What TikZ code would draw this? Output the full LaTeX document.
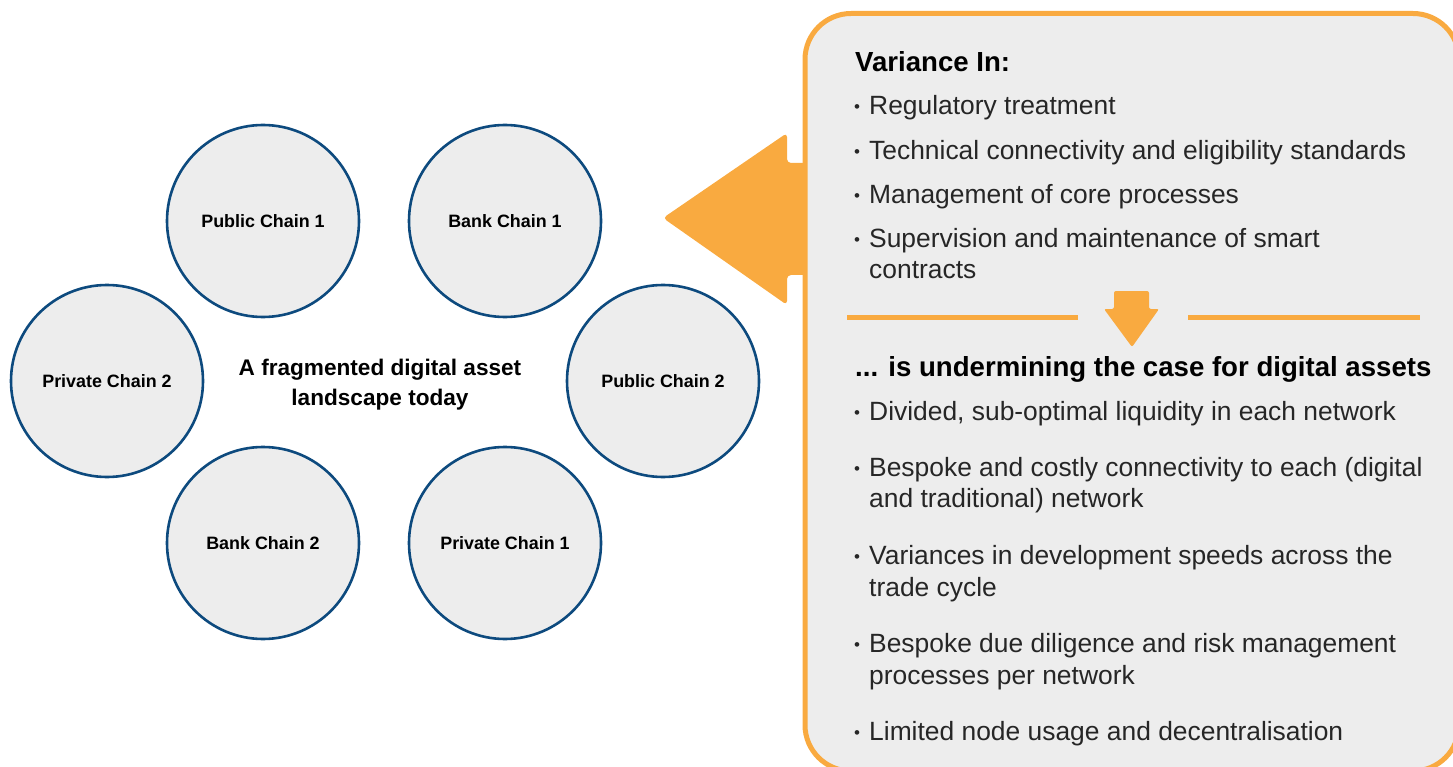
\documentclass[tikz,border=0pt]{standalone}
\usepackage{fontspec}
\setmainfont{Liberation Sans}
\definecolor{chainblue}{HTML}{0D4A7E}
\definecolor{panelgray}{HTML}{EDEDED}
\definecolor{accent}{HTML}{F9AA40}
\definecolor{textgray}{HTML}{262626}
\begin{document}
\begin{tikzpicture}[x=1pt,y=-1pt,
  chain/.style={circle, draw=chainblue, line width=2.6pt, fill=panelgray,
    minimum size=192pt, inner sep=0pt,
    font=\fontsize{17.9}{20}\selectfont\bfseries, text=black},
  body/.style={anchor=base west, inner sep=0pt,
    font=\fontsize{26.4}{30}\selectfont, text=textgray},
  dot/.style={anchor=base west, inner sep=0pt,
    font=\fontsize{17}{20}\selectfont, text=textgray},
  head/.style={anchor=base west, inner sep=0pt,
    font=\fontsize{27.6}{30}\selectfont\bfseries, text=black},
]
\useasboundingbox (0,0) rectangle (1453,767);

% chain circles
\node[chain] (pub1)  at (263,221) {Public Chain 1};
\node[chain] (bank1) at (505,221) {Bank Chain 1};
\node[chain] (priv2) at (107,381) {Private Chain 2};
\node[chain] (pub2)  at (663,381) {Public Chain 2};
\node[chain] (bank2) at (263,543) {Bank Chain 2};
\node[chain] (priv1) at (505,543) {Private Chain 1};
\node[align=center, font=\fontsize{22.6}{30}\selectfont\bfseries, text=black]
  (centre) at (380,385) {A fragmented digital asset\\landscape today};

% big arrow pointing from the panel to the circles
\fill[accent, rounded corners=4pt]
  (812,163) -- (787,163) -- (787,133) -- (663,218) -- (787,305)
  -- (787,275) -- (812,275) -- cycle;

% panel (runs past the right and bottom edges)
\draw[accent, line width=5pt, fill=panelgray, rounded corners=46pt]
  (805,13.5) rectangle (1459,771);

% headings and bullets
\node[head] (h1) at (855,72) {Variance In:};
\node[dot] at (854,113) {•}; \node[body] (v1) at (869,115) {Regulatory treatment};
\node[dot] at (854,158) {•}; \node[body] (v2) at (869,160) {Technical connectivity and eligibility standards};
\node[dot] at (854,202) {•}; \node[body] (v3) at (869,204) {Management of core processes};
\node[dot] at (854,246) {•}; \node[body] (v4) at (869,248) {Supervision and maintenance of smart};
\node[body] (v4b) at (869,279) {contracts};

% separator with small down arrow
\draw[accent, line width=5pt] (847,317) -- (1078,317);
\draw[accent, line width=5pt] (1188,317) -- (1420,317);
\fill[accent, rounded corners=2pt]
  (1114,291) -- (1149,291) -- (1149,309) -- (1159,309) -- (1132,347)
  -- (1104,309) -- (1114,309) -- cycle;

\node[head] (h2) at (855,376) {... is undermining the case for digital assets};
\node[dot] at (854,418) {•}; \node[body] (u1) at (869,420) {Divided, sub-optimal liquidity in each network};
\node[dot] at (854,474) {•}; \node[body] (u2) at (869,476) {Bespoke and costly connectivity to each (digital};
\node[body] (u2b) at (869,507) {and traditional) network};
\node[dot] at (854,562) {•}; \node[body] (u3) at (869,564) {Variances in development speeds across the};
\node[body] (u3b) at (869,596) {trade cycle};
\node[dot] at (854,650) {•}; \node[body] (u4) at (869,652) {Bespoke due diligence and risk management};
\node[body] (u4b) at (869,684) {processes per network};
\node[dot] at (854,738) {•}; \node[body] (u5) at (869,740) {Limited node usage and decentralisation};
\end{tikzpicture}
\end{document}
